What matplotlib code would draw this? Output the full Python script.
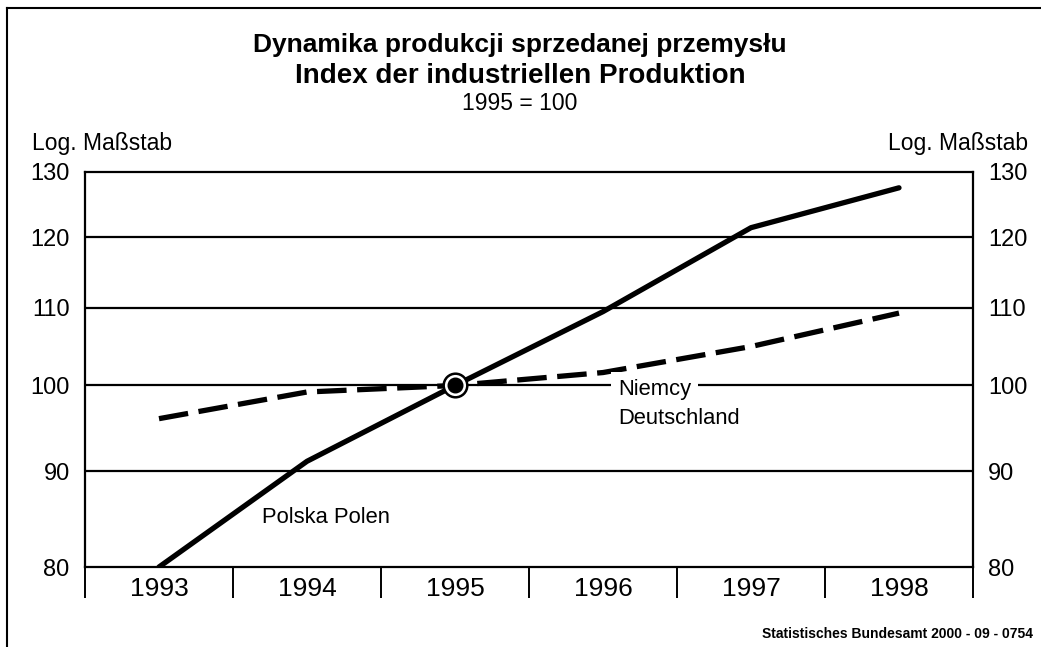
import matplotlib
matplotlib.use("Agg")
import matplotlib.pyplot as plt
from matplotlib.ticker import FixedLocator, NullFormatter, NullLocator, FixedFormatter
from matplotlib.lines import Line2D

plt.rcParams['font.family'] = ['Liberation Sans', 'DejaVu Sans']

years = ["1993", "1994", "1995", "1996", "1997", "1998"]
polska = [80.0, 91.1, 100.0, 109.5, 121.4, 127.5]
niemcy = [96.0, 99.2, 100.0, 101.6, 104.9, 109.3]
yticks = [80, 90, 100, 110, 120, 130]

title1 = "Dynamika produkcji sprzedanej przemysłu"
title2 = "Index der industriellen Produktion"
title3 = "1995 = 100"
scale_label = "Log. Maßstab"
label_pl = "Polska Polen"
label_de1 = "Niemcy"
label_de2 = "Deutschland"
source = "Statistisches Bundesamt 2000 - 09 - 0754"

fig = plt.figure(figsize=(10.41, 6.47), dpi=100)
ax = fig.add_axes([85/1041, 1-567/647, (973-85)/1041, (567-172)/647])
ax.set_yscale('log')
ax.set_ylim(80, 130)
ax.set_xlim(-0.5, len(years) - 0.5)

x = list(range(len(years)))

# gridlines
for v in yticks[1:-1]:
    ax.axhline(v, color='black', lw=1.6, zorder=1)

ax.plot(x, polska, color='black', lw=3.8, solid_capstyle='round', zorder=3)
ax.plot(x, niemcy, color='black', lw=3.8, dashes=(5.6, 2.0), zorder=3)

# base marker at 1995
i95 = years.index("1995")
ax.plot([x[i95]], [polska[i95]], marker='o', ms=17, mfc='white', mec='black', mew=1.8, zorder=5)
ax.plot([x[i95]], [polska[i95]], marker='o', ms=10.5, mfc='black', mec='black', zorder=6)

# y axis
ax.yaxis.set_major_locator(FixedLocator(yticks))
ax.yaxis.set_minor_locator(NullLocator())
ax.yaxis.set_major_formatter(FixedFormatter([str(v) for v in yticks]))
ax.yaxis.set_minor_formatter(NullFormatter())
ax.tick_params(axis='y', which='both', length=0, labelsize=17, pad=11,
               left=True, right=True, labelleft=True, labelright=True)

# x axis: labels at centers, ticks at boundaries
ax.xaxis.set_major_locator(FixedLocator(x))
ax.set_xticklabels(years)
ax.xaxis.set_minor_locator(FixedLocator([i - 0.5 for i in range(len(years) + 1)]))
ax.tick_params(axis='x', which='major', length=0, labelsize=19, pad=7.5)
ax.tick_params(axis='x', which='minor', length=22, width=1.4, direction='out')

for s in ax.spines.values():
    s.set_linewidth(1.6)

# labels
ax.text(0.696, 84.97, label_pl, fontsize=15.8, ha='left', va='center', zorder=4)
ax.text(3.101, 99.45, label_de1, fontsize=15.8, ha='left', va='center', zorder=4,
        bbox=dict(facecolor='white', edgecolor='none', pad=5))
ax.text(3.101, 96.07, label_de2, fontsize=15.8, ha='left', va='center', zorder=4)

# titles
fig.text(520/1041, 1-45/647, title1, fontsize=19, fontweight='bold', ha='center', va='center')
fig.text(520/1041, 1-76/647, title2, fontsize=20, fontweight='bold', ha='center', va='center')
fig.text(520/1041, 1-104/647, title3, fontsize=16.5, ha='center', va='center')
fig.text(32/1041, 1-144/647, scale_label, fontsize=16.5, ha='left', va='center')
fig.text(1028/1041, 1-144/647, scale_label, fontsize=16.5, ha='right', va='center')
fig.text(1033/1041, 1-634/647, source, fontsize=10, fontweight='bold', ha='right', va='center')

# outer frame (top and left)
fig.add_artist(Line2D([7/1041, 7/1041], [0, 1-8/647], transform=fig.transFigure, color='black', lw=1.5))
fig.add_artist(Line2D([7/1041, 1], [1-8/647, 1-8/647], transform=fig.transFigure, color='black', lw=1.5))

fig.savefig("out.png", dpi=100)
